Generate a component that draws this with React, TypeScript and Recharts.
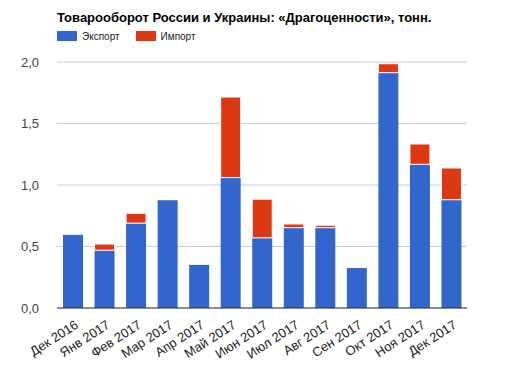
import React from 'react';
import { BarChart, Bar, XAxis, YAxis, CartesianGrid } from 'recharts';

const categories = ['Дек 2016', 'Янв 2017', 'Фев 2017', 'Мар 2017', 'Апр 2017', 'Май 2017', 'Июн 2017', 'Июл 2017', 'Авг 2017', 'Сен 2017', 'Окт 2017', 'Ноя 2017', 'Дек 2017'];
const exportValues = [0.6, 0.47, 0.69, 0.88, 0.355, 1.06, 0.57, 0.653, 0.653, 0.33, 1.913, 1.168, 0.88];
const importValues = [0.003, 0.05, 0.08, 0.003, 0.003, 0.655, 0.315, 0.03, 0.02, 0.003, 0.073, 0.165, 0.258];
const yTicks = [0, 0.5, 1, 1.5, 2];

const data = categories.map((c, i) => ({ name: c, exp: exportValues[i], imp: importValues[i] }));

const font = 'Arial, "Liberation Sans", sans-serif';

const XTick = (props: any) => {
  const { x, y, payload } = props;
  return (
    <g transform={`translate(${x + 3},${y + 6})`}>
      <text textAnchor="end" transform="rotate(-33)" fontFamily={font} fontSize={13} fill="#222" dy={6}>
        {payload.value}
      </text>
    </g>
  );
};

export default function App() {
  return (
    <div style={{ position: 'absolute', left: 0, top: 0, width: 524, height: 374, background: '#fff', fontFamily: font }}>
      <div style={{ position: 'absolute', left: 57, top: 10, fontSize: 13, fontWeight: 'bold', color: '#000', whiteSpace: 'nowrap' }}>
        Товарооборот России и Украины: «Драгоценности», тонн.
      </div>
      <div style={{ position: 'absolute', left: 57, top: 31, height: 10, fontSize: 10, color: '#222', display: 'flex', alignItems: 'center' }}>
        <span style={{ display: 'inline-block', width: 20, height: 10, background: '#3366cc', marginRight: 5 }} />
        <span style={{ marginRight: 16 }}>Экспорт</span>
        <span style={{ display: 'inline-block', width: 20, height: 10, background: '#dc3912', marginRight: 5 }} />
        <span>Импорт</span>
      </div>
      <BarChart width={524} height={374} data={data} margin={{ top: 62, right: 57, bottom: 0, left: 0 }} barSize={20}>
        <CartesianGrid vertical={false} stroke="#cccccc" />
        <XAxis dataKey="name" interval={0} height={66} tick={<XTick />} tickLine={false} axisLine={{ stroke: '#333' }} />
        <YAxis width={57} domain={[0, 2]} ticks={yTicks} tickFormatter={(v: number) => v.toFixed(1).replace('.', ',')}
          tick={{ fontFamily: font, fontSize: 13, fill: '#444' }} axisLine={false} tickLine={false} tickMargin={12} />
        <Bar dataKey="exp" stackId="a" fill="#3366cc" isAnimationActive={false} />
        <Bar dataKey="imp" stackId="a" fill="#dc3912" stroke="#ffffff" strokeWidth={1} isAnimationActive={false} />
      </BarChart>
    </div>
  );
}
